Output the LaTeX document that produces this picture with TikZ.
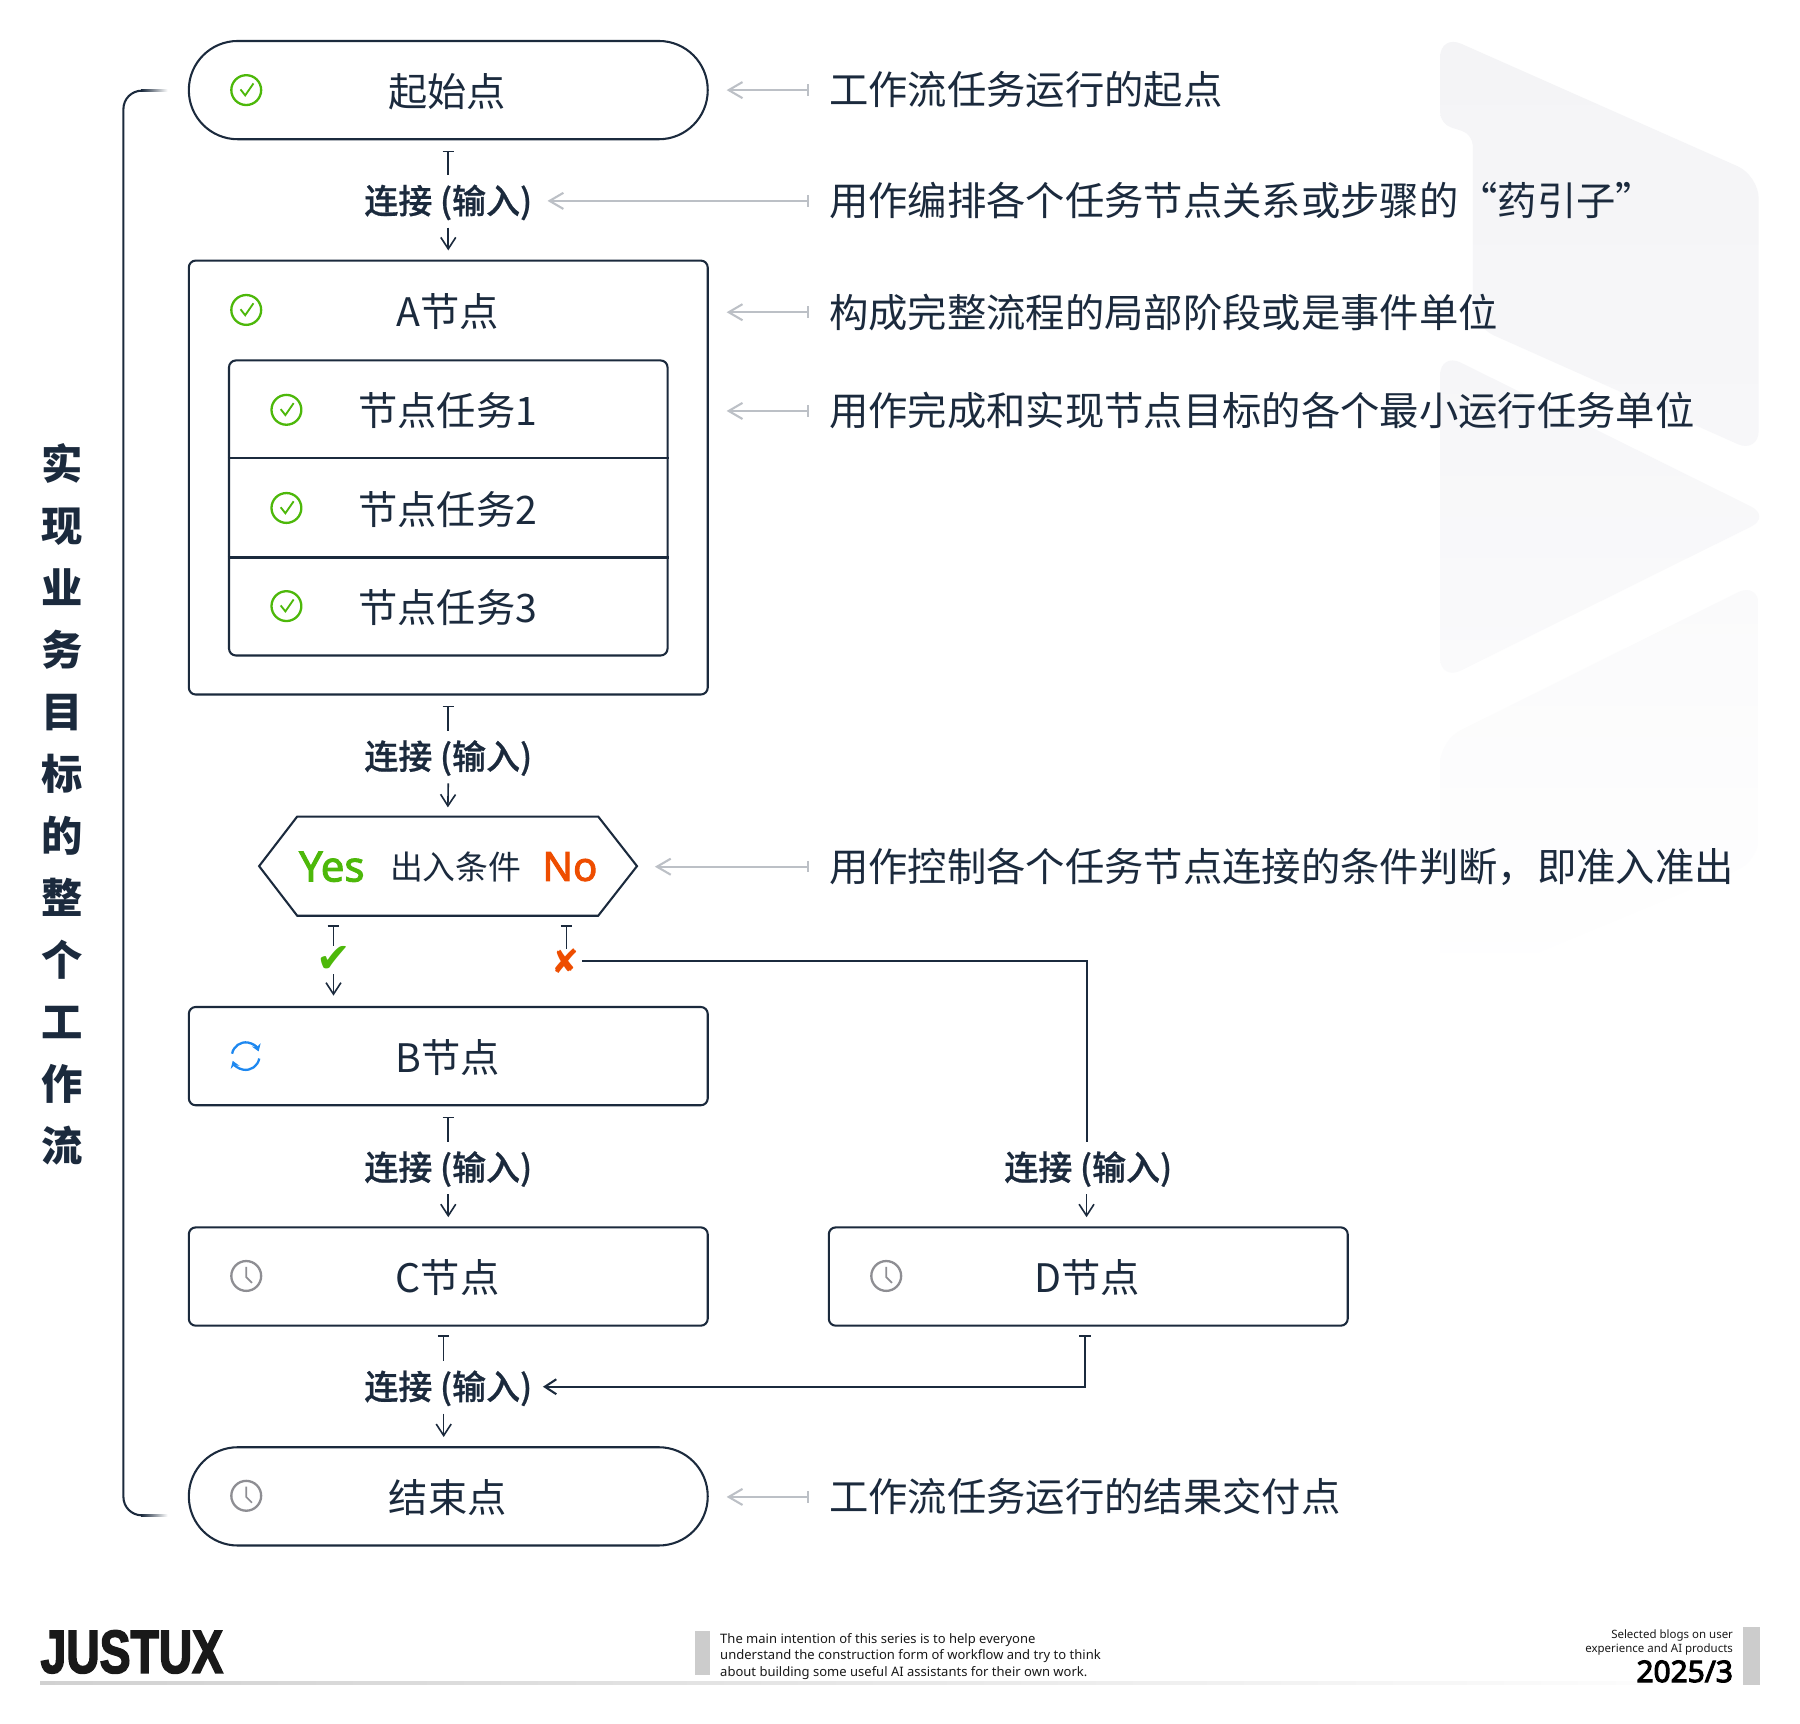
\documentclass[tikz,border=0pt]{standalone}
\usepackage{fontspec}
\usetikzlibrary{arrows.meta,calc}
\setmainfont{Noto Sans CJK SC}
\newfontfamily\medf[FakeBold=.7]{Noto Sans CJK SC Medium}
\newfontfamily\latf{Noto Sans}
\newfontfamily\latb[FakeBold=2.2]{Noto Sans}
\newfontfamily\latx[FakeBold=3.5]{Noto Sans}
\newfontfamily\dingf{DejaVu Sans}
\newfontfamily\logof[FakeBold=2.5,FakeStretch=.76]{Liberation Sans Bold}
\definecolor{ink}{HTML}{1B2A3D}
\definecolor{grayline}{HTML}{BCC0C6}
\definecolor{okgreen}{HTML}{4DB80A}
\definecolor{noorange}{HTML}{EE4D00}
\definecolor{clockgray}{HTML}{8E8E93}
\definecolor{syncblue}{HTML}{1E88F0}
\definecolor{footgray}{HTML}{CCCCCC}
\definecolor{bga}{HTML}{F4F4F6}
\definecolor{bgb}{HTML}{F7F7F9}
\definecolor{bgc}{HTML}{F6F6F8}
\definecolor{bgd}{HTML}{FAFAFB}
\definecolor{bge}{HTML}{FAFAFB}
\tikzset{
  boxwide/.style={draw=ink,line width=.9pt,rectangle,minimum width=226pt,minimum height=42.8pt,inner sep=0pt,rounded corners=3pt},
  stadium/.style={boxwide,rounded corners=21.3pt},
  boxtext/.style={text=ink,font=\fontsize{17.1}{20}\selectfont,inner sep=0pt},
  desc/.style={text=ink,font=\fontsize{17.13}{20}\selectfont,inner sep=0pt,anchor=west},
  linklabel/.style={text=ink,font=\medf\fontsize{14.8}{18}\selectfont,inner sep=0pt,minimum height=22pt,minimum width=73pt,text height=11pt,text depth=0pt},
  thin conn/.style={draw=ink,line width=.7pt},
  barstart/.style={{Bar[width=5pt]}-,thin conn},
  barb/.style={-{Straight Barb[length=5pt,width=6.5pt]},thin conn},
  gray conn/.style={draw=grayline,line width=.9pt,{Bar[width=5pt]}-{Straight Barb[length=6pt,width=7pt]},shorten <=8.5pt,shorten >=7.8pt},
  thick conn/.style={draw=ink,line width=.9pt},
  okicon/.pic={
    \draw[okgreen,line width=1pt] (0,0) circle[radius=6.5pt];
    \draw[okgreen,line width=.8pt] (-5,-.6) -- (-.9,4.6) -- (6.3,-5.8);
  },
  clockicon/.pic={
    \draw[clockgray,line width=1pt] (0,0) circle[radius=6.5pt];
    \draw[clockgray,line width=.7pt] (0,-8) -- (0,1) -- (5,6);
  },
  syncicon/.pic={
    \draw[syncblue,line width=1pt,-{Stealth[length=3pt,width=4pt]}] (170:6pt) arc[start angle=170,end angle=20,radius=6pt];
    \draw[syncblue,line width=1pt,-{Stealth[length=3pt,width=4pt]}] (-10:6pt) arc[start angle=-10,end angle=-160,radius=6pt];
  },
}
\begin{document}
\begin{tikzpicture}[x=.5pt,y=-.5pt]
\useasboundingbox (0,0) rectangle (1568,1501.8);
\fill[white] (0,0) rectangle (1568,1501.8);
% background play marks
\shade[top color=bga,bottom color=bgb,rounded corners=10pt]
  (1254.5,30) -- (1532,153) -- (1532,395) -- (1283,284) [rounded corners=5pt] -- (1283,117) -- (1254.5,108) [rounded corners=10pt] -- cycle;
\shade[top color=bgc,bottom color=bgd,rounded corners=10pt]
  (1254.5,307) -- (1543,450) -- (1254.5,593) -- cycle;
\shade[top color=bge,bottom color=white,rounded corners=10pt]
  (1532,507) -- (1532,750) -- (1254.5,865) -- (1254.5,645) -- cycle;
% left bracket
\draw[ink,line width=.9pt,rounded corners=8pt] (123.5,79) -- (107.5,79) -- (107.5,1320) -- (123.5,1320);
\shade[left color=ink,right color=white] (123,78.1) rectangle (146,79.9);
\shade[left color=ink,right color=white] (123,1319.1) rectangle (146,1320.9);
\node[text=ink,font=\bfseries\fontsize{18}{27}\selectfont,align=center,inner sep=0pt] (side) at (54,701)
  {实\\现\\业\\务\\目\\标\\的\\整\\个\\工\\作\\流};
% main nodes
\node[stadium] (start) at (390.5,78.5) {};
\node[boxtext] (startt) at (389.5,79.5) {起始点};
\node[boxwide,minimum height=189pt] (nodeA) at (390.5,416) {};
\node[boxtext] (nodeAt) at (390,271) {A节点};
\node[boxwide,minimum width=191pt,minimum height=128.5pt] (tasks) at (390.5,442.5) {};
\draw[thick conn] ($(tasks.north west)!1/3!(tasks.south west)$) -- ($(tasks.north east)!1/3!(tasks.south east)$);
\draw[thick conn] ($(tasks.north west)!2/3!(tasks.south west)$) -- ($(tasks.north east)!2/3!(tasks.south east)$);
\node[boxtext] (t1) at (390,358) {节点任务1};
\node[boxtext] (t2) at (390,443.5) {节点任务2};
\node[boxtext] (t3) at (390,529) {节点任务3};
\node[minimum width=130.7pt,minimum height=42.8pt,inner sep=0pt] (hex) at (390,754.5) {};
\coordinate (hexr) at ($(hex.east)+(33.8,0)$);
\coordinate (hexl) at ($(hex.west)+(-33.2,0)$);
\draw[thick conn] (hex.north west) -- (hex.north east) -- (hexr) -- (hex.south east) -- (hex.south west) -- (hexl) -- cycle;
\node[text=okgreen,inner sep=0pt,font=\latb\fontsize{18.3}{20}\selectfont] (yes) at (289,755) {Yes};
\node[text=ink,inner sep=0pt,font=\fontsize{14.3}{18}\selectfont] (cond) at (397,755) {出入条件};
\node[text=noorange,inner sep=0pt,font=\latb\fontsize{17.5}{20}\selectfont] (no) at (496.5,755) {No};
\node[boxwide] (nodeB) at (390.5,920) {};
\node[boxtext] (nodeBt) at (390,921) {B节点};
\node[boxwide] (nodeC) at (390.5,1112) {};
\node[boxtext] (nodeCt) at (390,1113) {C节点};
\node[boxwide] (nodeD) at (948,1112) {};
\node[boxtext] (nodeDt) at (947,1113) {D节点};
\node[stadium] (finish) at (390.5,1303.5) {};
\node[boxtext] (finisht) at (390,1304.5) {结束点};
% icons
\pic at (214.5,78.5) {okicon};
\pic at (214.5,270) {okicon};
\pic at (249.5,357) {okicon};
\pic at (249.5,442.5) {okicon};
\pic at (249.5,528) {okicon};
\pic at (214,920) {syncicon};
\pic at (214.5,1111.5) {clockicon};
\pic at (772,1111.5) {clockicon};
\pic at (214.5,1303) {clockicon};
% link labels
\node[linklabel] (link1) at (390.5,175) {连接 (输入)};
\node[linklabel] (link2) at (390.5,659) {连接 (输入)};
\node[linklabel] (link3) at (390.5,1017) {连接 (输入)};
\node[linklabel] (link4) at (390.5,1208) {连接 (输入)};
\node[linklabel] (link5) at (948,1017) {连接 (输入)};
\node[text=okgreen,inner sep=0pt,font=\dingf\fontsize{18}{20}\selectfont] (yesmark) at (290.5,836) {✔};
\node[text=noorange,inner sep=0pt,font=\dingf\fontsize{14.5}{20}\selectfont] (nomark) at (492.5,837.5) {✘};
% vertical links
\draw[barstart,shorten <=4.5pt] (start.south) -- (link1.north);
\draw[barb,shorten <=.5pt,shorten >=4pt] (link1.south) -- (nodeA.north);
\draw[barstart,shorten <=4.5pt] (nodeA.south) -- (link2.north);
\draw[barb,shorten <=.5pt,shorten >=4pt] (link2.south) -- (hex.north);
\draw[barstart,shorten <=4.5pt] (nodeB.south) -- (link3.north);
\draw[barb,shorten <=.5pt,shorten >=4pt] (link3.south) -- (nodeC.north);
% shifted links
\coordinate (ys) at (290.5,797);
\coordinate (ns) at (493.5,797);
\draw[barstart,shorten <=4.5pt] (ys) -- (ys |- yesmark.north);
\draw[barb,shorten <=.5pt,shorten >=4.5pt] (ys |- yesmark.south) -- (ys |- nodeB.north);
\draw[barstart,shorten <=4.5pt] (ns) -- (ns |- nomark.north);
\coordinate (c4) at (386.5,1155);
\draw[barstart,shorten <=4pt] (c4) -- (c4 |- link4.north);
\draw[barb,shorten <=.5pt,shorten >=4pt] (c4 |- link4.south) -- (c4 |- finish.north);
\coordinate (r5) at (946.5,1017);
\draw[thick conn,shorten <=1pt] (nomark.east) -| (r5 |- link5.north);
\draw[barb,shorten <=.5pt,shorten >=4pt] (r5 |- link5.south) -- (r5 |- nodeD.north);
\coordinate (d4) at (945,1155);
\draw[thin conn,{Bar[width=5pt]}-,shorten <=4pt] (d4) -- (d4 |- link4.north);
\draw[thick conn,-{Straight Barb[length=5pt,width=6.5pt]},shorten >=4.5pt] (d4 |- link4.north) |- (link4.east);
% descriptions
\node[desc] (d1) at (722,78.5) {工作流任务运行的起点};
\node[desc] (d2) at (722,175) {用作编排各个任务节点关系或步骤的“药引子”};
\node[desc] (d3) at (722,272) {构成完整流程的局部阶段或是事件单位};
\node[desc] (d4t) at (722,358) {用作完成和实现节点目标的各个最小运行任务单位};
\node[desc] (d5) at (722,755) {用作控制各个任务节点连接的条件判断，即准入准出};
\node[desc] (d6) at (722,1304) {工作流任务运行的结果交付点};
\draw[gray conn] (d1.west) -- (start.east);
\draw[gray conn,shorten >=6.5pt] (d2.west) -- (link1.east);
\draw[gray conn] (d3.west) -- (nodeA.east |- d3.west);
\draw[gray conn] (d4t.west) -- (nodeA.east |- d4t.west);
\draw[gray conn] (d5.west) -- (hexr |- d5.west);
\draw[gray conn] (d6.west) -- (finish.east |- d6.west);
% footer
\node[anchor=west,inner sep=0pt,text=black!90,font=\logof\fontsize{26.5}{28}\selectfont] (logo) at (35,1439) {JUSTUX};
\fill[footgray] (605,1421) rectangle (618.5,1459.5);
\node[anchor=west,inner sep=0pt,align=left,text=black!90,font=\latf\fontsize{5.67}{7}\selectfont] (blurb) at (627,1443)
  {The main intention of this series is to help everyone\\understand the construction form of workflow and try to think\\about building some useful AI assistants for their own work.};
\shade[left color=black!18!white,right color=white] (35,1464.5) rectangle (1520,1467.5);
\fill[footgray] (1518.5,1417) rectangle (1533,1468);
\node[anchor=east,inner sep=0pt,align=right,text=black!90,font=\latf\fontsize{5}{6}\selectfont] (sel) at (1510,1431)
  {Selected blogs on user\\experience and AI products};
\node[anchor=east,inner sep=0pt,text=black,font=\latx\fontsize{13}{15}\selectfont] (date) at (1510,1456) {2025/3};
\end{tikzpicture}
\end{document}
